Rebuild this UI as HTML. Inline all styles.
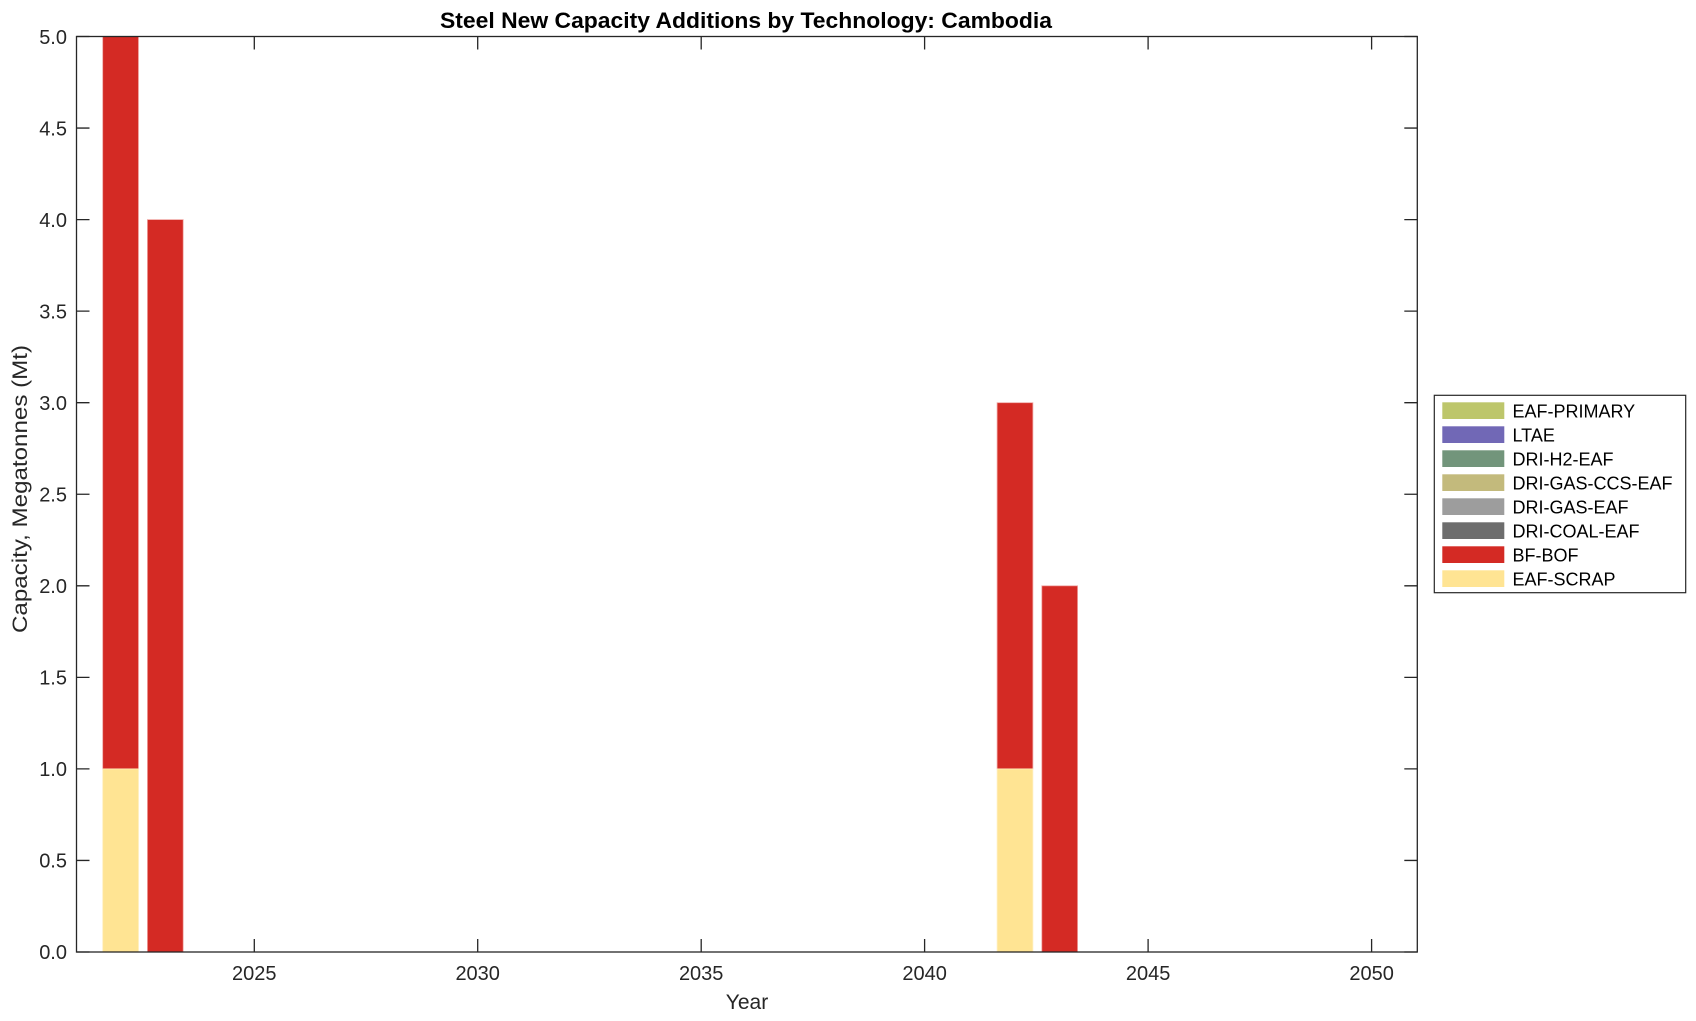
<!DOCTYPE html>
<html><head><meta charset="utf-8"><style>html,body{margin:0;padding:0;background:#fff}svg{display:block}</style></head>
<body>
<svg width="1696" height="1021" viewBox="0 0 1696 1021" xmlns="http://www.w3.org/2000/svg" font-family="Liberation Sans, Arial, sans-serif" fill="#262626">
<rect width="1696" height="1021" fill="#fff"/>
<g stroke="#f0a8a5" stroke-width="0.8">
<rect x="102.7" y="36.5" width="35.8" height="732.4" fill="#D42A24"/>
<rect x="102.7" y="768.9" width="35.8" height="183.1" fill="#FFE493" stroke="#fff0c0"/>
<rect x="147.4" y="219.6" width="35.8" height="732.4" fill="#D42A24"/>
<rect x="997.1" y="402.7" width="35.8" height="366.2" fill="#D42A24"/>
<rect x="997.1" y="768.9" width="35.8" height="183.1" fill="#FFE493" stroke="#fff0c0"/>
<rect x="1041.8" y="585.8" width="35.8" height="366.2" fill="#D42A24"/>
</g>
<rect x="76.5" y="36.5" width="1340.8" height="915.5" fill="none" stroke="#262626" stroke-width="1.3"/>
<g stroke="#262626" stroke-width="1.3">
<path d="M76.5 952h13M76.5 860.45h13M76.5 768.9h13M76.5 677.35h13M76.5 585.8h13M76.5 494.25h13M76.5 402.7h13M76.5 311.15h13M76.5 219.6h13M76.5 128.05h13M76.5 36.5h13"/>
<path d="M1417.3 952h-13M1417.3 860.45h-13M1417.3 768.9h-13M1417.3 677.35h-13M1417.3 585.8h-13M1417.3 494.25h-13M1417.3 402.7h-13M1417.3 311.15h-13M1417.3 219.6h-13M1417.3 128.05h-13M1417.3 36.5h-13"/>
<path d="M254.3 952v-13M477.7 952v-13M701.2 952v-13M924.6 952v-13M1148.1 952v-13M1371.6 952v-13"/>
<path d="M254.3 36.5v13M477.7 36.5v13M701.2 36.5v13M924.6 36.5v13M1148.1 36.5v13M1371.6 36.5v13"/>
</g>
<g font-size="20" text-anchor="end">
<text x="67" y="959">0.0</text><text x="67" y="867.5">0.5</text><text x="67" y="776">1.0</text><text x="67" y="684.5">1.5</text><text x="67" y="593">2.0</text><text x="67" y="501.5">2.5</text><text x="67" y="410">3.0</text><text x="67" y="318.5">3.5</text><text x="67" y="227">4.0</text><text x="67" y="135.5">4.5</text><text x="67" y="44">5.0</text>
</g>
<g font-size="20" text-anchor="middle">
<text x="254.3" y="980">2025</text><text x="477.7" y="980">2030</text><text x="701.2" y="980">2035</text><text x="924.6" y="980">2040</text><text x="1148.1" y="980">2045</text><text x="1371.6" y="980">2050</text>
<text x="747" y="1009" font-size="21">Year</text>
<text x="746" y="28" font-size="22" font-weight="bold" fill="#000" textLength="612" lengthAdjust="spacingAndGlyphs">Steel New Capacity Additions by Technology: Cambodia</text>
<text transform="translate(27,489) rotate(-90)" font-size="21" textLength="288" lengthAdjust="spacingAndGlyphs">Capacity, Megatonnes (Mt)</text>
</g>
<rect x="1434.3" y="395.3" width="251.4" height="197.4" fill="#fff" stroke="#262626" stroke-width="1.2"/>
<g>
<rect x="1442.3" y="402.3" width="62" height="16.7" fill="#BDC66B"/>
<rect x="1442.3" y="426.3" width="62" height="16.7" fill="#7168B6"/>
<rect x="1442.3" y="450.3" width="62" height="16.7" fill="#72957B"/>
<rect x="1442.3" y="474.3" width="62" height="16.7" fill="#C3BA7C"/>
<rect x="1442.3" y="498.3" width="62" height="16.7" fill="#9D9D9D"/>
<rect x="1442.3" y="522.3" width="62" height="16.7" fill="#6D6D6D"/>
<rect x="1442.3" y="546.3" width="62" height="16.7" fill="#D42A24"/>
<rect x="1442.3" y="570.3" width="62" height="16.7" fill="#FFE493"/>
</g>
<g font-size="18" fill="#000">
<text x="1512.5" y="417.7">EAF-PRIMARY</text>
<text x="1512.5" y="441.7">LTAE</text>
<text x="1512.5" y="465.7">DRI-H2-EAF</text>
<text x="1512.5" y="489.7">DRI-GAS-CCS-EAF</text>
<text x="1512.5" y="513.7">DRI-GAS-EAF</text>
<text x="1512.5" y="537.7">DRI-COAL-EAF</text>
<text x="1512.5" y="561.7">BF-BOF</text>
<text x="1512.5" y="585.7">EAF-SCRAP</text>
</g>
</svg>
</body></html>
